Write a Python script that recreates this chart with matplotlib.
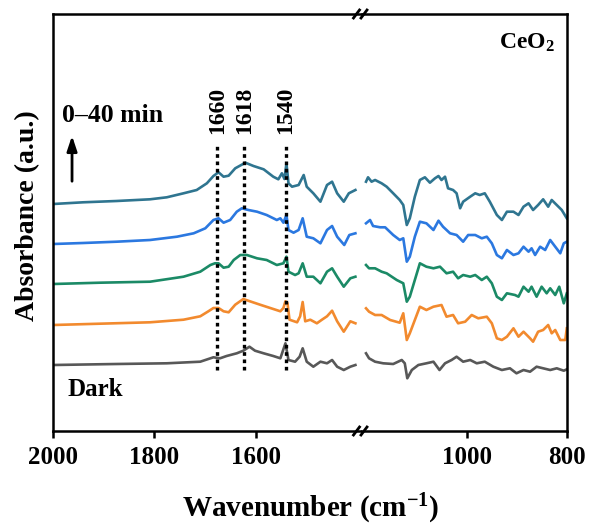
import matplotlib
matplotlib.use("Agg")
import matplotlib.pyplot as plt

plt.rcParams['font.family'] = ['Liberation Serif', 'DejaVu Serif']
plt.rcParams['font.weight'] = 'bold'
plt.rcParams['mathtext.fontset'] = 'custom'
plt.rcParams['mathtext.rm'] = 'Liberation Serif:bold'
plt.rcParams['mathtext.it'] = 'Liberation Serif:bold'
plt.rcParams['mathtext.bf'] = 'Liberation Serif:bold'

# ---- data (wavenumber, absorbance relative to each trace's baseline) ----
labels = ['Dark', '10 min', '20 min', '30 min', '40 min']
colors = ['#585858', '#f28a2e', '#1b8a66', '#2b78e0', '#2f7590']
offsets = [0.0, 0.40, 0.81, 1.21, 1.61]

# high-wavenumber segment (2000-1400)
wn_hi_dark = [1999, 1874, 1775, 1709, 1683, 1670, 1657, 1637, 1624, 1612, 1601, 1584, 1565, 1551,
              1541, 1535, 1522, 1513, 1507, 1499, 1486, 1472, 1459, 1449, 1439, 1426, 1413, 1403]
ab_hi_dark = [0, 0.01, 0.017, 0.033, 0.077, 0.067, 0.09, 0.117, 0.143, 0.183, 0.143, 0.117, 0.09, 0.067,
              0.217, 0.05, 0.033, 0.083, 0.167, 0.033, -0.017, 0.033, 0.017, 0.05, -0.017, -0.05, -0.017, 0]

wn_hi_10 = [1999, 1907, 1808, 1742, 1709, 1693, 1683, 1673, 1663, 1653, 1640, 1624, 1611, 1591, 1571,
            1551, 1545, 1541, 1537, 1533, 1518, 1512, 1507, 1502, 1492, 1479, 1469, 1459, 1449, 1439,
            1426, 1413, 1403]
ab_hi_10 = [0, 0.013, 0.027, 0.053, 0.087, 0.137, 0.17, 0.17, 0.137, 0.127, 0.203, 0.26, 0.237, 0.203, 0.17,
            0.137, 0.17, 0.237, 0.22, 0.053, 0.027, 0.087, 0.23, 0.037, 0.053, 0.017, 0.053, 0.087, 0.143, 0.037,
            -0.067, 0.037, 0.017]

wn_hi_20 = [1999, 1907, 1808, 1742, 1709, 1689, 1680, 1673, 1663, 1653, 1643, 1630, 1617, 1597, 1578,
            1558, 1545, 1539, 1535, 1522, 1515, 1507, 1499, 1486, 1472, 1459, 1449, 1439, 1426, 1413, 1403]
ab_hi_20 = [0, 0.013, 0.023, 0.073, 0.123, 0.19, 0.207, 0.207, 0.163, 0.173, 0.24, 0.29, 0.29, 0.257, 0.24,
            0.19, 0.207, 0.273, 0.123, 0.09, 0.107, 0.207, 0.073, 0.073, 0.007, 0.123, 0.157, 0.073, -0.027,
            0.057, 0.073]

wn_hi_30 = [1999, 1940, 1874, 1808, 1755, 1722, 1699, 1683, 1673, 1663, 1650, 1637, 1627, 1614, 1597,
            1578, 1558, 1551, 1545, 1539, 1535, 1525, 1515, 1507, 1499, 1486, 1472, 1459, 1449, 1439,
            1425, 1415, 1403]
ab_hi_30 = [0, 0.01, 0.023, 0.04, 0.073, 0.107, 0.157, 0.24, 0.257, 0.213, 0.24, 0.323, 0.357, 0.34, 0.323,
            0.29, 0.24, 0.257, 0.213, 0.29, 0.14, 0.113, 0.14, 0.257, 0.073, 0.057, 0.007, 0.14, 0.18, 0.073,
            -0.01, 0.09, 0.107]

wn_hi_40 = [1999, 1940, 1874, 1808, 1775, 1742, 1716, 1696, 1683, 1673, 1663, 1653, 1640, 1620, 1604,
            1584, 1565, 1555, 1548, 1543, 1539, 1535, 1528, 1515, 1505, 1499, 1486, 1472, 1459, 1449,
            1439, 1426, 1416, 1403]
ab_hi_40 = [0, 0.017, 0.03, 0.047, 0.067, 0.107, 0.14, 0.207, 0.28, 0.317, 0.273, 0.283, 0.357, 0.413, 0.38,
            0.347, 0.273, 0.247, 0.307, 0.25, 0.407, 0.207, 0.173, 0.19, 0.29, 0.173, 0.107, 0.023, 0.19, 0.223,
            0.107, 0.023, 0.107, 0.14]

# low-wavenumber segment (1200-800)
wn_lo_dark = [1200, 1194, 1182, 1166, 1146, 1129, 1123, 1118, 1109, 1096, 1080, 1066, 1054, 1043, 1030,
              1020, 1007, 993, 980, 964, 947, 930, 914, 901, 887, 874, 861, 848, 834, 821, 807, 801]
ab_lo_dark = [0.117, 0.067, 0.033, 0.017, 0.01, 0.05, 0.017, -0.133, -0.05, 0, 0.017, 0.033, -0.05, 0.017, 0.05,
              0.083, 0.033, 0.05, 0.017, 0.033, -0.017, -0.05, -0.033, -0.083, -0.05, -0.067, -0.017, -0.033,
              -0.05, -0.033, -0.057, -0.043]

wn_lo_10 = [1200, 1194, 1182, 1169, 1152, 1133, 1126, 1119, 1113, 1103, 1093, 1080, 1066, 1050, 1040,
            1027, 1017, 1003, 990, 977, 960, 950, 940, 930, 920, 907, 897, 887, 874, 868, 858, 848, 838,
            831, 824, 814, 804, 801]
ab_lo_10 = [0.167, 0.133, 0.10, 0.10, 0.05, 0.023, 0.117, -0.15, -0.083, 0.05, 0.183, 0.15, 0.183, 0.20, 0.083,
            0.10, 0.017, 0.033, 0.10, 0.067, 0.083, 0.017, -0.133, -0.15, -0.117, -0.033, -0.117, -0.067,
            -0.133, -0.167, -0.067, -0.05, 0.0, -0.083, -0.05, -0.15, -0.15, -0.033]

wn_lo_20 = [1200, 1194, 1182, 1169, 1159, 1139, 1126, 1119, 1113, 1103, 1093, 1080, 1066, 1053, 1040,
            1027, 1017, 1007, 993, 983, 970, 960, 950, 940, 930, 920, 904, 897, 887, 877, 871, 861, 851,
            841, 834, 824, 816, 807, 801]
ab_lo_20 = [0.19, 0.157, 0.157, 0.123, 0.107, 0.04, 0.007, -0.177, -0.127, 0.04, 0.207, 0.173, 0.157, 0.173,
            0.107, 0.123, 0.057, 0.09, 0.073, 0.09, 0.04, 0.073, 0.007, -0.127, -0.16, -0.093, -0.11, -0.127,
            -0.027, -0.077, -0.027, -0.127, -0.027, -0.093, -0.043, -0.11, -0.027, -0.193, -0.093]

wn_lo_30 = [1200, 1192, 1186, 1172, 1162, 1146, 1133, 1126, 1119, 1113, 1103, 1093, 1080, 1066, 1056,
            1047, 1033, 1020, 1007, 997, 983, 970, 960, 950, 940, 930, 920, 907, 897, 887, 877, 871, 864,
            854, 844, 834, 824, 814, 807, 801]
ab_lo_30 = [0.207, 0.24, 0.18, 0.167, 0.167, 0.09, 0.04, 0.057, -0.177, -0.127, 0.073, 0.223, 0.207, 0.14,
            0.233, 0.173, 0.107, 0.09, 0.023, 0.09, 0.09, 0.057, 0.073, 0.007, -0.11, -0.143, -0.06, -0.11,
            -0.093, -0.027, -0.077, -0.043, -0.11, -0.027, -0.06, 0.04, -0.027, -0.093, 0.007, 0.023]

wn_lo_40 = [1200, 1196, 1189, 1182, 1169, 1159, 1146, 1133, 1126, 1119, 1113, 1103, 1093, 1083, 1073,
            1063, 1056, 1050, 1043, 1037, 1027, 1020, 1013, 1007, 993, 983, 974, 964, 954, 940, 930, 920,
            907, 897, 887, 877, 868, 858, 848, 838, 831, 821, 811, 801]
ab_lo_40 = [0.223, 0.267, 0.223, 0.24, 0.207, 0.173, 0.107, 0.04, -0.01, -0.21, -0.143, 0.073, 0.24, 0.267,
            0.213, 0.257, 0.28, 0.24, 0.273, 0.157, 0.14, 0.107, -0.043, 0.023, 0.073, 0.107, 0.09, 0.107,
            0.023, -0.11, -0.16, -0.077, -0.077, -0.11, -0.027, 0.007, -0.06, -0.01, 0.047, -0.027, 0.04,
            -0.01, -0.06, -0.143]

hi_wn = [wn_hi_dark, wn_hi_10, wn_hi_20, wn_hi_30, wn_hi_40]
hi_ab = [ab_hi_dark, ab_hi_10, ab_hi_20, ab_hi_30, ab_hi_40]
lo_wn = [wn_lo_dark, wn_lo_10, wn_lo_20, wn_lo_30, wn_lo_40]
lo_ab = [ab_lo_dark, ab_lo_10, ab_lo_20, ab_lo_30, ab_lo_40]

peak_labels = ['1660', '1618', '1540']
peak_pos = [1675, 1622, 1540]

# ---- figure ----
W, H = 595, 527
fig = plt.figure(figsize=(W / 100, H / 100), dpi=100)

x0, xb, x1 = 52.7, 362.0, 567.3
ytop, ybot = 14.0, 431.0
ax_l = fig.add_axes([x0 / W, 1 - ybot / H, (xb - x0) / W, (ybot - ytop) / H])
ax_r = fig.add_axes([xb / W, 1 - ybot / H, (x1 - xb) / W, (ybot - ytop) / H])

ylim = (-0.66, 3.51)
for ax in (ax_l, ax_r):
    ax.set_ylim(*ylim)
    ax.set_yticks([])
    for s in ax.spines.values():
        s.set_linewidth(1.8)
    ax.tick_params(axis='x', direction='out', length=5, width=1.8, labelsize=18, pad=6)

ax_l.set_xlim(2000, 1390)
ax_r.set_xlim(1208, 800)
ax_l.set_xticks([2000, 1800, 1600])
ax_r.set_xticks([1000, 800])
ax_l.spines['right'].set_visible(False)
ax_r.spines['left'].set_visible(False)

for i in range(5):
    ax_l.plot(hi_wn[i], [v + offsets[i] for v in hi_ab[i]], color=colors[i], lw=1.9)
    ax_r.plot(lo_wn[i], [v + offsets[i] for v in lo_ab[i]], color=colors[i], lw=1.9)

# peak markers
ymin_f = (ybot - 370) / (ybot - ytop)
ymax_f = (ybot - 143) / (ybot - ytop)
for lab, p in zip(peak_labels, peak_pos):
    ax_l.axvline(p, ymin=ymin_f, ymax=ymax_f, color='black', lw=2.4, ls=(0, (1.1, 1.1)))
    ax_l.text(p, (ybot - 134) / (ybot - ytop), lab, rotation=90, ha='center', va='bottom',
              fontsize=17, fontweight='bold', transform=ax_l.get_xaxis_transform())

# annotations
ax_l.annotate('', xy=(0.0625, (ybot - 133) / (ybot - ytop)), xytext=(0.0625, (ybot - 184) / (ybot - ytop)),
              xycoords='axes fraction',
              arrowprops=dict(arrowstyle='-|>,head_length=0.9,head_width=0.3', color='black', lw=2))
ax_l.text(0.03, (ybot - 115) / (ybot - ytop), '0\u201340 min', transform=ax_l.transAxes,
          fontsize=18.5, fontweight='bold', ha='left', va='center')
ax_l.text(0.049, (ybot - 390) / (ybot - ytop), 'Dark', transform=ax_l.transAxes,
          fontsize=18, fontweight='bold', ha='left', va='center')
ax_r.text(0.94, (ybot - 43) / (ybot - ytop), 'CeO$_2$', transform=ax_r.transAxes,
          fontsize=17, fontweight='bold', ha='right', va='center')

# axis break marks
for yy in (ytop, ybot):
    for dx in (-5.5, 2.0):
        fig.lines.append(plt.Line2D([(xb + dx - 3) / W, (xb + dx + 3) / W],
                                    [1 - (yy + 4) / H, 1 - (yy - 4) / H],
                                    transform=fig.transFigure, color='black', lw=2))

fig.text(311 / W, 1 - 509 / H, 'Wavenumber (cm$^{-1}$)', ha='center', va='center',
         fontsize=21, fontweight='bold')
fig.text(28 / W, 1 - 216 / H, 'Absorbance (a.u.)', ha='center', va='center', rotation=90,
         fontsize=20, fontweight='bold')

fig.savefig('out.png', dpi=100)
